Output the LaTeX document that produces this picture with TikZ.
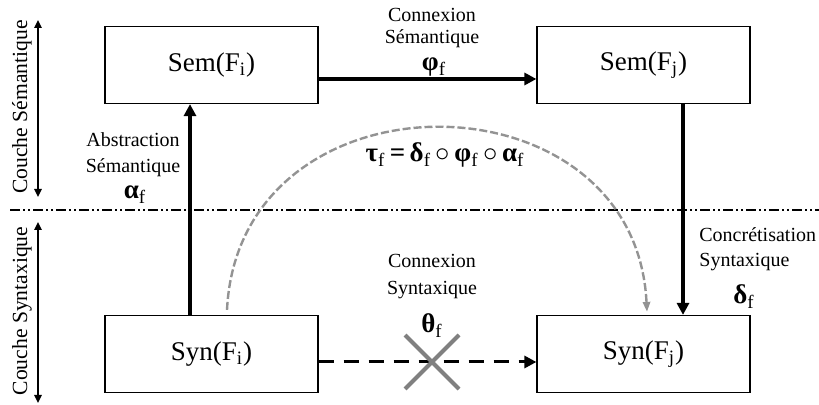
\documentclass[tikz,border=0pt]{standalone}
\usepackage{fontspec}
\setmainfont{Liberation Serif}
\usetikzlibrary{arrows.meta,shapes.misc}

\begin{document}
\begin{tikzpicture}[x=0.5pt,y=-0.5pt,
    box/.style={draw,line width=0.6pt,minimum width=106.5pt,minimum height=38.5pt,inner sep=0pt,font=\fontsize{13.5}{16}\selectfont},
    lbl/.style={align=center,inner sep=0pt,font=\fontsize{10}{12}\selectfont},
    grk/.style={inner sep=0pt,anchor=base,font=\fontsize{13.5}{16}\selectfont\bfseries},
    layer/.style={inner sep=0pt,rotate=90,font=\fontsize{10.8}{13}\selectfont},
    link/.style={line width=1.8pt,-{Triangle[length=6pt,width=6pt]}},
    updown/.style={line width=0.9pt,{Triangle[length=4pt,width=3.6pt]}-{Triangle[length=4pt,width=3.6pt]}},
    ]
    \useasboundingbox (0,0) rectangle (819,405);

    % Boxes
    \node[box] (semi) at (211.5,65)  {Sem(F\textsubscript{i})};
    \node[box] (semj) at (643.5,65)  {Sem(F\textsubscript{j})};
    \node[box] (syni) at (211.5,354) {Syn(F\textsubscript{i})};
    \node[box] (synj) at (643.5,354) {Syn(F\textsubscript{j})};

    % Layers
    \coordinate (sepl) at (10,210);
    \coordinate (sepr) at (819,210);
    \draw[line width=0.75pt,dash pattern=on 5pt off 1.5pt on 1pt off 1.5pt on 1pt off 1.5pt] (sepl) -- (sepr);
    \coordinate (semtop) at (38,20);
    \coordinate (sembot) at (38,197);
    \coordinate (syntop) at (38,222);
    \coordinate (synbot) at (38,403);
    \draw[updown] (semtop) -- (sembot);
    \draw[updown] (syntop) -- (synbot);
    \node[layer] (semlayer) at (22,107) {Couche Sémantique};
    \node[layer] (synlayer) at (22,311) {Couche Syntaxique};

    % Arrows
    \draw[link] ([xshift=-10.75pt]syni.north) -- ([xshift=-10.75pt]semi.south);
    \draw[link] ([yshift=-7pt]semi.east) -- ([yshift=-7pt]semj.west);
    \draw[link] ([xshift=19.75pt]semj.south) -- ([xshift=19.75pt]synj.north);
    \draw[link,line width=1.5pt,dash pattern=on 7.5pt off 5pt] ([yshift=-4pt]syni.east) -- ([yshift=-4pt]synj.west);
    \node[cross out,draw=gray,line width=2pt,minimum size=25pt,inner sep=0pt] (nolink) at (432,362) {};

    % Composition
    \draw[gray!85,line width=1.2pt,dash pattern=on 4pt off 1.5pt,-{Triangle[length=5pt,width=3.6pt]}]
        ([xshift=7.75pt,yshift=2.5pt]syni.north) .. controls +(6pt,122pt) and +(-6pt,122pt) .. ([xshift=1.75pt,yshift=1.5pt]synj.north);
    \node[grk] (tau) at (445,162)
        {τ\textsubscript{\mdseries f}\,=\,δ\textsubscript{\mdseries f}\,{\mdseries$\circ$}\,φ\textsubscript{\mdseries f}\,{\mdseries$\circ$}\,α\textsubscript{\mdseries f}};

    % Labels
    \node[lbl] (semcon) at (432,28) {Connexion\\[-1pt]Sémantique};
    \node[grk] (phi) at (434,71) {φ\textsubscript{\mdseries f}};
    \node[lbl] (abstr) at (133,155) {Abstraction\\[1pt]Sémantique};
    \node[grk] (alpha) at (135,199) {α\textsubscript{\mdseries f}};
    \node[lbl,align=left,anchor=west] (concr) at (699,249.5) {Concrétisation\\[0.5pt]Syntaxique};
    \node[grk] (delta) at (744,304) {δ\textsubscript{\mdseries f}};
    \node[lbl] (syncon) at (432,277) {Connexion\\[1.5pt]Syntaxique};
    \node[grk] (theta) at (432,333) {θ\textsubscript{\mdseries f}};
\end{tikzpicture}
\end{document}
